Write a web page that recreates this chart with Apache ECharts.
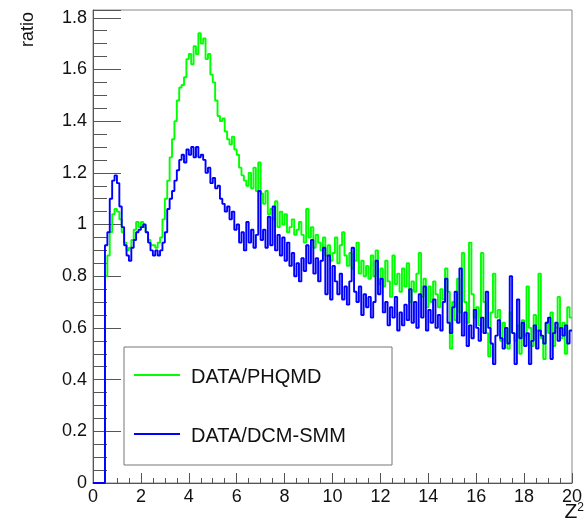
<!DOCTYPE html>
<html>
<head>
<meta charset="utf-8">
<script src="https://cdn.jsdelivr.net/npm/echarts@6/dist/echarts.min.js"></script>
<style>
html,body{margin:0;padding:0;background:#fff;}
#chart{width:585px;height:524px;}
</style>
</head>
<body>
<div id="chart"></div>
<script>
// Histogram binning: 200 bins of width 0.1 from 0 to 20
var binWidth = 0.1;
var xTicks = [0, 2, 4, 6, 8, 10, 12, 14, 16, 18, 20];
var yTicks = [0, 0.2, 0.4, 0.6, 0.8, 1, 1.2, 1.4, 1.6, 1.8];
var seriesNames = ['DATA/PHQMD', 'DATA/DCM-SMM'];

var phqmd = [
0,0,0,0,0,0.80,0.88,0.97,1.04,1.06,
1.05,1.02,0.97,0.93,0.90,0.91,0.94,0.98,1.01,0.99,
1.01,0.99,0.97,0.94,0.92,0.92,0.91,0.93,0.95,1.02,
1.10,1.17,1.26,1.33,1.40,1.48,1.53,1.54,1.57,1.64,
1.66,1.62,1.69,1.66,1.74,1.70,1.72,1.64,1.66,1.58,
1.55,1.48,1.42,1.40,1.41,1.36,1.33,1.31,1.34,1.29,
1.27,1.22,1.19,1.17,1.15,1.20,1.14,1.22,1.13,1.24,
1.12,1.08,1.13,1.04,1.06,1.02,1.09,0.99,1.05,1.00,
1.04,0.97,0.99,1.02,0.96,0.98,1.01,0.96,0.93,1.06,
0.95,0.99,0.91,0.96,0.93,0.90,0.95,0.88,0.92,0.86,
0.89,0.95,0.85,0.92,0.97,0.88,0.84,0.89,0.83,0.86,
0.93,0.81,0.86,0.80,0.84,0.79,0.88,0.80,0.90,0.77,
0.83,0.76,0.86,0.78,0.72,0.88,0.77,0.81,0.74,0.83,
0.76,0.85,0.70,0.78,0.74,0.81,0.89,0.72,0.79,0.68,
0.76,0.70,0.78,0.73,0.68,0.75,0.71,0.83,0.74,0.52,
0.70,0.63,0.79,0.66,0.89,0.70,0.62,0.93,0.73,0.64,
0.68,0.61,0.89,0.70,0.58,0.49,0.66,0.81,0.64,0.67,
0.55,0.62,0.60,0.52,0.66,0.58,0.55,0.61,0.50,0.63,
0.57,0.76,0.60,0.53,0.65,0.59,0.81,0.56,0.48,0.62,
0.58,0.66,0.53,0.60,0.72,0.56,0.62,0.50,0.68,0.64
];

var dcmsmm = [
0,0,0,0,0,0.92,0.97,1.10,1.17,1.19,
1.16,1.07,0.99,0.92,0.88,0.86,0.91,0.94,0.97,0.98,
0.99,1.00,0.97,0.93,0.90,0.88,0.90,0.88,0.90,0.93,
0.97,1.06,1.10,1.13,1.17,1.21,1.25,1.27,1.24,1.29,
1.27,1.30,1.26,1.30,1.26,1.27,1.25,1.20,1.22,1.16,
1.18,1.14,1.15,1.10,1.08,1.05,1.07,1.02,1.05,0.98,
1.00,0.93,0.97,0.90,1.01,0.93,0.98,0.91,0.96,1.13,
0.94,0.98,0.91,1.03,0.92,1.07,0.90,0.96,0.88,0.95,
0.86,0.93,0.84,0.89,0.80,0.85,0.78,0.87,0.82,0.92,
0.85,0.94,0.81,0.87,0.78,0.86,0.91,0.73,0.88,0.71,
0.84,0.78,0.73,0.81,0.71,0.76,0.69,0.78,0.91,0.74,
0.70,0.76,0.65,0.73,0.68,0.72,0.64,0.70,0.86,0.73,
0.79,0.66,0.70,0.61,0.68,0.64,0.72,0.59,0.66,0.61,
0.69,0.63,0.75,0.62,0.70,0.60,0.73,0.64,0.76,0.59,
0.67,0.62,0.71,0.60,0.65,0.59,0.70,0.79,0.62,0.58,
0.68,0.74,0.62,0.83,0.57,0.66,0.53,0.61,0.56,0.67,
0.60,0.55,0.64,0.58,0.74,0.60,0.54,0.46,0.57,0.63,
0.56,0.52,0.60,0.54,0.80,0.58,0.46,0.71,0.56,0.62,
0.53,0.58,0.46,0.55,0.61,0.52,0.59,0.57,0.54,0.62,
0.64,0.48,0.58,0.62,0.55,0.60,0.57,0.61,0.54,0.59
];

function toSteps(vals) {
  var out = [];
  for (var i = 0; i < vals.length; i++) {
    out.push([+(i * binWidth).toFixed(4), vals[i]]);
  }
  out.push([+(vals.length * binWidth).toFixed(4), vals[vals.length - 1]]);
  return out;
}

var FONT = 'Liberation Sans, Arial, sans-serif';
var chart = echarts.init(document.getElementById('chart'), null, {renderer: 'canvas'});

var legendLeft = 124, legendTop = 347, legendW = 268, legendH = 118;

chart.setOption({
  animation: false,
  backgroundColor: '#fff',
  grid: {
    left: 93, right: 5, top: 10, bottom: 41,
    show: true, borderColor: '#888', borderWidth: 1, backgroundColor: 'transparent'
  },
  xAxis: {
    type: 'value',
    min: xTicks[0], max: xTicks[xTicks.length - 1], interval: 2,
    axisLine: {show: true, onZero: false, lineStyle: {color: '#555', width: 1}},
    axisTick: {show: true, inside: true, length: 10, lineStyle: {color: '#555'}},
    minorTick: {show: true, splitNumber: 4, length: 5, lineStyle: {color: '#555'}},
    splitLine: {show: false},
    axisLabel: {color: '#111', fontSize: 18, fontFamily: FONT, margin: 5}
  },
  yAxis: {
    type: 'value',
    min: yTicks[0], max: 1.83, interval: 0.2,
    axisLine: {show: true, onZero: false, lineStyle: {color: '#555', width: 1}},
    axisTick: {show: true, inside: true, length: 28, lineStyle: {color: '#555'}},
    minorTick: {show: true, splitNumber: 4, length: 14, lineStyle: {color: '#555'}},
    splitLine: {show: false},
    axisLabel: {color: '#111', fontSize: 18, fontFamily: FONT, margin: 6, showMaxLabel: false}
  },
  series: [
    {
      name: seriesNames[0], type: 'line', step: 'end',
      data: toSteps(phqmd), showSymbol: false, symbol: 'none',
      lineStyle: {color: '#00ff00', width: 1.9}, itemStyle: {color: '#00ff00'}
    },
    {
      name: seriesNames[1], type: 'line', step: 'end',
      data: toSteps(dcmsmm), showSymbol: false, symbol: 'none',
      lineStyle: {color: '#0000ff', width: 1.9}, itemStyle: {color: '#0000ff'}
    }
  ],
  graphic: [
    {
      type: 'text', x: 28, y: 47, rotation: Math.PI / 2,
      style: {text: 'ratio', font: '18px ' + FONT, fill: '#111', textAlign: 'left', textVerticalAlign: 'middle'}
    },
    {
      type: 'text', x: 584, y: 512,
      style: {
        text: '{a|Z}{b|2}', fill: '#111', textAlign: 'right', textVerticalAlign: 'middle',
        rich: {
          a: {fontSize: 21, fontFamily: FONT, fill: '#111', verticalAlign: 'bottom'},
          b: {fontSize: 12, fontFamily: FONT, fill: '#111', verticalAlign: 'top'}
        }
      }
    },
    {
      type: 'rect', x: legendLeft, y: legendTop, z: 10,
      shape: {width: legendW, height: legendH},
      style: {fill: '#fff', stroke: '#777', lineWidth: 1}
    },
    {
      type: 'line', z: 11,
      shape: {x1: 134, y1: 375, x2: 180, y2: 375},
      style: {stroke: '#00ff00', lineWidth: 1.9}
    },
    {
      type: 'text', x: 191, y: 377, z: 11,
      style: {text: seriesNames[0], font: '20px ' + FONT, fill: '#111', textAlign: 'left', textVerticalAlign: 'middle'}
    },
    {
      type: 'line', z: 11,
      shape: {x1: 134, y1: 434, x2: 180, y2: 434},
      style: {stroke: '#0000ff', lineWidth: 1.9}
    },
    {
      type: 'text', x: 191, y: 436, z: 11,
      style: {text: seriesNames[1], font: '20px ' + FONT, fill: '#111', textAlign: 'left', textVerticalAlign: 'middle'}
    }
  ]
});
</script>
</body>
</html>
